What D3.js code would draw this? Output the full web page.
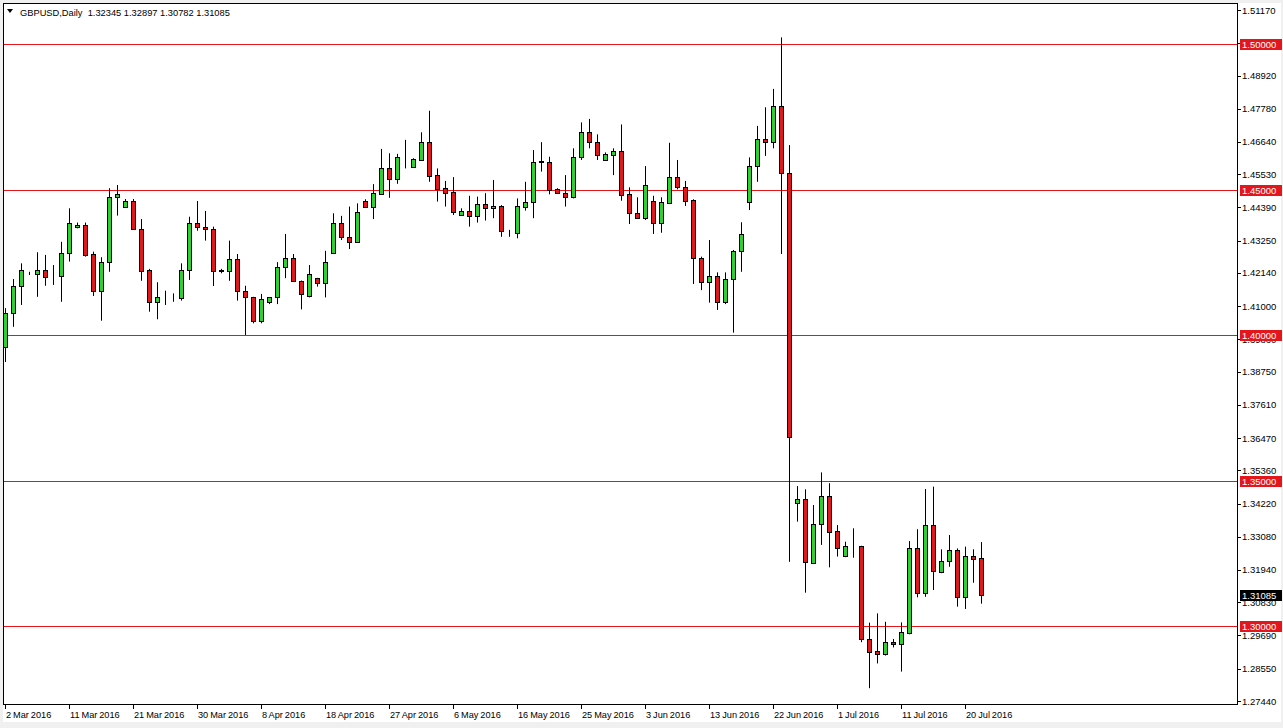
<!DOCTYPE html>
<html><head><meta charset="utf-8">
<script src="https://cdn.jsdelivr.net/npm/d3@7/dist/d3.min.js"></script>
<style>body{margin:0;background:#f0f0f0}svg{display:block}</style>
</head><body><svg id="c" width="1283" height="728"></svg>
<script>
const symbolTitle = "GBPUSD,Daily";
const open = [1.3961,1.4078,1.4170,1.4210,1.4209,1.4224,1.4203,1.4204,1.4281,1.4371,
1.4379,1.4279,1.4153,1.4251,1.4474,1.4439,1.4461,1.4364,1.4224,1.4113,
1.4131,1.4128,1.4127,1.4224,1.4384,1.4371,1.4364,1.4222,1.4222,1.4261,
1.4153,1.4130,1.4050,1.4113,1.4130,1.4233,1.4264,1.4187,1.4136,1.4196,
1.4179,1.4281,1.4384,1.4338,1.4321,1.4461,1.4442,1.4485,1.4573,1.4537,
1.4611,1.4579,1.4602,1.4663,1.4550,1.4505,1.4491,1.4413,1.4427,1.4411,
1.4450,1.4436,1.4444,1.4350,1.4350,1.4442,1.4457,1.4596,1.4596,1.4501,
1.4488,1.4476,1.4613,1.4697,1.4665,1.4602,1.4619,1.4633,1.4484,1.4419,
1.4402,1.4461,1.4387,1.4455,1.4542,1.4510,1.4465,1.4264,1.4184,1.4204,
1.4115,1.4192,1.4290,1.4459,1.4580,1.4673,1.4663,1.4787,1.4558,1.3423,
1.3437,1.3219,1.3351,1.3448,1.3328,1.3243,1.3276,1.3276,1.2956,1.2916,
1.2904,1.2948,1.2939,1.2979,1.3268,1.3114,1.3348,1.3188,1.3226,1.3263,
1.3100,1.3242,1.32345];
const high = [1.4093,1.4193,1.4247,1.4218,1.4285,1.4276,1.4241,1.4321,1.4436,1.4387,
1.4387,1.4287,1.4268,1.4505,1.4516,1.4468,1.4468,1.4399,1.4228,1.4182,
1.4153,1.4144,1.4247,1.4407,1.4461,1.4427,1.4373,1.4228,1.4325,1.4279,
1.4170,1.4132,1.4142,1.4131,1.4251,1.4348,1.4279,1.4188,1.4241,1.4197,
1.4290,1.4419,1.4410,1.4442,1.4453,1.4467,1.4519,1.4640,1.4625,1.4623,
1.4671,1.4608,1.4697,1.4771,1.4573,1.4530,1.4543,1.4436,1.4479,1.4476,
1.4488,1.4533,1.4447,1.4362,1.4470,1.4527,1.4636,1.4663,1.4613,1.4505,
1.4550,1.4642,1.4731,1.4743,1.4690,1.4628,1.4642,1.4724,1.4508,1.4474,
1.4581,1.4479,1.4474,1.4661,1.4602,1.4530,1.4467,1.4270,1.4327,1.4216,
1.4216,1.4293,1.4388,1.4611,1.4719,1.4783,1.4846,1.5023,1.4653,1.3482,
1.3471,1.3417,1.3529,1.3492,1.3348,1.3291,1.3337,1.3277,1.3013,1.3045,
1.3016,1.2957,1.3014,1.3293,1.3334,1.3472,1.3480,1.3265,1.3314,1.3268,
1.3274,1.3265,1.32897];
const low = [1.3908,1.4029,1.4104,1.4207,1.4132,1.4170,1.4173,1.4115,1.4253,1.4367,
1.4270,1.4135,1.4050,1.4218,1.4411,1.4438,1.4362,1.4187,1.4081,1.4055,
1.4104,1.4115,1.4119,1.4190,1.4359,1.4325,1.4169,1.4213,1.4187,1.4119,
1.4001,1.4041,1.4041,1.4107,1.4107,1.4196,1.4184,1.4089,1.4130,1.4167,
1.4130,1.4280,1.4327,1.4296,1.4318,1.4439,1.4399,1.4482,1.4472,1.4520,
1.4573,1.4578,1.4599,1.4527,1.4459,1.4442,1.4413,1.4411,1.4373,1.4387,
1.4394,1.4402,1.4338,1.4338,1.4333,1.4428,1.4402,1.4562,1.4484,1.4485,
1.4442,1.4470,1.4602,1.4642,1.4602,1.4600,1.4550,1.4462,1.4382,1.4400,
1.4396,1.4348,1.4352,1.4451,1.4501,1.4444,1.4176,1.4155,1.4112,1.4087,
1.4107,1.4009,1.4218,1.4430,1.4527,1.4616,1.4642,1.4279,1.3222,1.3360,
1.3116,1.3215,1.3280,1.3203,1.3240,1.3238,1.3236,1.2946,1.2788,1.2873,
1.2900,1.2928,1.2845,1.2973,1.3100,1.3102,1.3125,1.3183,1.3205,1.3068,
1.3060,1.3150,1.30782];
const close = [1.4078,1.4170,1.4224,1.4212,1.4224,1.4201,1.4204,1.4281,1.4384,1.4379,
1.4276,1.4153,1.4251,1.4474,1.4485,1.4461,1.4364,1.4222,1.4113,1.4131,
1.4132,1.4129,1.4224,1.4384,1.4371,1.4364,1.4222,1.4223,1.4261,1.4153,
1.4130,1.4049,1.4124,1.4130,1.4233,1.4264,1.4187,1.4141,1.4210,1.4179,
1.4251,1.4384,1.4336,1.4321,1.4422,1.4442,1.4488,1.4573,1.4537,1.4611,
1.4612,1.4605,1.4663,1.4547,1.4501,1.4490,1.4424,1.4427,1.4411,1.4450,
1.4436,1.4444,1.4359,1.4351,1.4444,1.4457,1.4594,1.4597,1.4499,1.4488,
1.4476,1.4613,1.4697,1.4665,1.4619,1.4622,1.4633,1.4482,1.4419,1.4402,
1.4516,1.4387,1.4457,1.4542,1.4510,1.4462,1.4264,1.4184,1.4204,1.4115,
1.4192,1.4290,1.4347,1.4581,1.4673,1.4663,1.4787,1.4558,1.3652,1.3437,
1.3220,1.3351,1.3448,1.3325,1.3268,1.3277,1.3277,1.2956,1.2913,1.2904,
1.2946,1.2939,1.2980,1.3268,1.3114,1.3348,1.3191,1.3226,1.3263,1.3100,
1.3242,1.3231,1.31085];
const dateLabels = ["2 Mar 2016","11 Mar 2016","21 Mar 2016","30 Mar 2016","8 Apr 2016","18 Apr 2016","27 Apr 2016","6 May 2016","16 May 2016","25 May 2016","3 Jun 2016","13 Jun 2016","22 Jun 2016","1 Jul 2016","11 Jul 2016","20 Jul 2016"];
const dateBar = [0,8,16,24,32,40,48,56,64,72,80,88,96,104,112,120];
const priceTicks = [1.51170,1.50050,1.48920,1.47780,1.46640,1.45530,1.44390,1.43250,1.42140,1.41000,1.39860,1.38750,1.37610,1.36470,1.35360,1.34220,1.33080,1.31940,1.30830,1.29690,1.28550,1.27440];
const levels = [1.50, 1.45, 1.40, 1.35, 1.30];
const lastPrice = 1.31085;

const FONT = "'Liberation Sans', Arial, sans-serif";
const FS = "9.5px";
const RED = "#e3161b", GREEN = "#2fd12f";
const svg = d3.select("#c");
const W = 1283, H = 728;
const P = {left: 3, top: 3, right: 1237, bottom: 704};
const n = open.length;

const x = d3.scaleBand().domain(d3.range(n)).range([1, 1 + 8 * n]).paddingInner(0.375).paddingOuter(0.1875);
const y = d3.scaleLinear().domain([1.2744, 1.5117]).range([701, 10]);
const cx = i => Math.round(x(i) + x.bandwidth() / 2);

// backgrounds
svg.append("rect").attr("x", 0).attr("y", 0).attr("width", W).attr("height", H).attr("fill", "#f0f0f0");
svg.append("rect").attr("x", 3).attr("y", 3).attr("width", 1278).attr("height", 719).attr("fill", "#fff");

svg.append("clipPath").attr("id", "pc").append("rect")
  .attr("x", P.left).attr("y", P.top).attr("width", P.right - P.left).attr("height", P.bottom - P.top);
const g = svg.append("g").attr("clip-path", "url(#pc)");

// level lines
g.selectAll("line.lvl").data(levels).join("line").attr("class", "lvl")
  .attr("x1", P.left).attr("x2", P.right)
  .attr("y1", d => Math.round(y(d)) + 0.5).attr("y2", d => Math.round(y(d)) + 0.5)
  .attr("stroke", RED).attr("stroke-width", 1);

const bars = d3.range(n).map(i => ({i, o: open[i], h: high[i], l: low[i], c: close[i]}));
// wicks
g.selectAll("line.wick").data(bars).join("line").attr("class", "wick")
  .attr("x1", d => cx(d.i) + 0.5).attr("x2", d => cx(d.i) + 0.5)
  .attr("y1", d => y(d.h)).attr("y2", d => y(d.l))
  .attr("stroke", "#000").attr("stroke-width", 1);
// bodies
g.selectAll("rect.body").data(bars).join("rect").attr("class", "body")
  .attr("x", d => cx(d.i) - 1.5)
  .attr("width", 4)
  .attr("y", d => Math.round(y(Math.max(d.o, d.c))) + 0.5)
  .attr("height", d => Math.max(0, Math.round(y(Math.min(d.o, d.c))) - Math.round(y(Math.max(d.o, d.c)))))
  .attr("fill", d => d.c > d.o ? GREEN : (d.c < d.o ? RED : "#000"))
  .attr("stroke", "#000").attr("stroke-width", 1);

// frame
svg.append("rect").attr("x", P.left + 0.5).attr("y", P.top + 0.5)
  .attr("width", P.right - P.left).attr("height", P.bottom - P.top)
  .attr("fill", "none").attr("stroke", "#000").attr("stroke-width", 1);

// price axis
const ya = svg.append("g");
ya.selectAll("line").data(priceTicks).join("line")
  .attr("x1", P.right + 0.5).attr("x2", P.right + 4)
  .attr("y1", d => Math.round(y(d)) + 0.5).attr("y2", d => Math.round(y(d)) + 0.5)
  .attr("stroke", "#000");
ya.selectAll("text").data(priceTicks).join("text")
  .attr("x", P.right + 5).attr("y", d => y(d) + 3.5)
  .attr("font-family", FONT).attr("font-size", FS).attr("fill", "#000")
  .text(d => d.toFixed(5));

// level labels
const lv = svg.append("g").selectAll("g").data(levels).join("g");
lv.append("rect").attr("x", P.right + 3).attr("y", d => Math.round(y(d)) - 5)
  .attr("width", 42).attr("height", 11).attr("fill", RED);
lv.append("text").attr("x", P.right + 5).attr("y", d => y(d) + 4)
  .attr("font-family", FONT).attr("font-size", FS).attr("fill", "#fff")
  .text(d => d.toFixed(5));

// last price label
svg.append("rect").attr("x", P.right + 3).attr("y", Math.round(y(lastPrice)) - 5)
  .attr("width", 42).attr("height", 11).attr("fill", "#000");
svg.append("text").attr("x", P.right + 5).attr("y", y(lastPrice) + 4)
  .attr("font-family", FONT).attr("font-size", FS).attr("fill", "#fff")
  .text(lastPrice.toFixed(5));

// date axis
const xa = svg.append("g");
xa.selectAll("line").data(dateBar).join("line")
  .attr("x1", d => cx(d) + 0.5).attr("x2", d => cx(d) + 0.5)
  .attr("y1", P.bottom + 0.5).attr("y2", P.bottom + 5)
  .attr("stroke", "#000");
xa.selectAll("text").data(dateLabels).join("text")
  .attr("x", (d, k) => cx(dateBar[k]) + 1).attr("y", 718)
  .attr("font-family", FONT).attr("font-size", "9.2px").attr("word-spacing", "-0.6px").attr("fill", "#000")
  .text(d => d);

// title
svg.append("path").attr("d", "M7,9 L13,9 L10,13 Z").attr("fill", "#000");
svg.append("text").attr("x", 20).attr("y", 16)
  .attr("font-family", FONT).attr("font-size", "9.3px").attr("fill", "#000")
  .attr("xml:space", "preserve").style("white-space", "pre")
  .text(symbolTitle + "  " + [open[n-1], high[n-1], low[n-1], close[n-1]].map(v => v.toFixed(5)).join(" "));
</script></body></html>
